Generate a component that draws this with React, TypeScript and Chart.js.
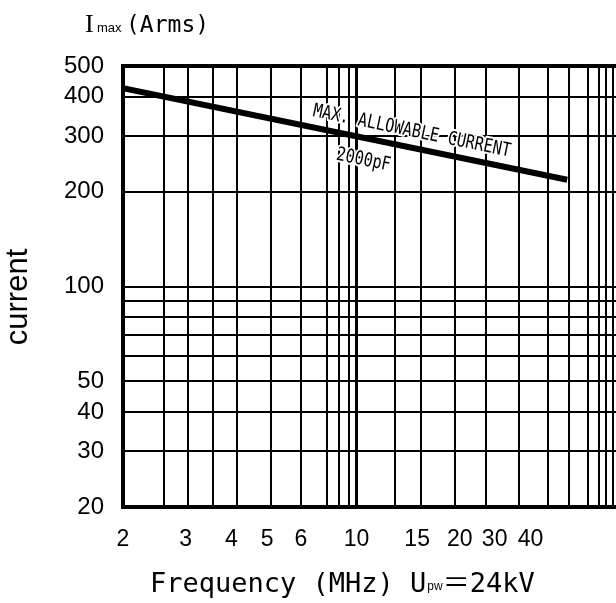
import { useEffect, useRef } from 'react';
import { Chart, Plugin, registerables } from 'chart.js';

Chart.register(...registerables);

// The sheet's frequency scale is hand drawn (not a true log axis), so x is the
// position along that printed scale, counted from the 2 MHz edge.
const xGridLines = [0, 41, 65, 91, 115, 149, 179, 205, 217, 227, 235, 274, 300, 334, 365, 398, 428, 449, 468, 479, 486, 493];
const xTickPositions = [0, 63, 109, 145, 179, 235, 296, 339, 374, 410];
const xTickLabels = ['2', '3', '4', '5', '6', '10', '15', '20', '30', '40'];

const yGridLines = [20, 30, 40, 50, 60, 70, 80, 90, 100, 200, 300, 400, 500];
const yTickLabels = [20, 30, 40, 50, 100, 200, 300, 400, 500];

// MAX. ALLOWABLE CURRENT, 2000pF
const curveX = [0, 447];
const curveY = [425, 218];

const MONO = "'DejaVu Sans Mono', monospace";
const SANS = "'Liberation Sans', sans-serif";

const sheetText: Plugin<'line'> = {
  id: 'sheetText',
  afterDatasetsDraw(chart) {
    const { ctx, scales } = chart;
    const x0 = scales.x.getPixelForValue(curveX[0]);
    const y0 = scales.y.getPixelForValue(curveY[0]);
    const x1 = scales.x.getPixelForValue(curveX[1]);
    const y1 = scales.y.getPixelForValue(curveY[1]);
    const angle = Math.atan2(y1 - y0, x1 - x0);
    const lineY = (px: number) => y0 + ((px - x0) * (y1 - y0)) / (x1 - x0);

    const onCurve = (text: string, px: number, offset: number) => {
      ctx.save();
      ctx.translate(px, lineY(px));
      ctx.rotate(angle);
      ctx.scale(0.8, 1);
      ctx.font = `19px ${MONO}`;
      ctx.textBaseline = 'alphabetic';
      ctx.lineJoin = 'round';
      ctx.strokeStyle = '#fff';
      ctx.lineWidth = 4;
      ctx.strokeText(text, 0, offset);
      ctx.fillStyle = '#000';
      ctx.fillText(text, 0, offset);
      ctx.restore();
    };
    onCurve('MAX. ALLOWABLE CURRENT', x0 + 187, -11);
    onCurve('2000pF', x0 + 218, 27);

    ctx.save();
    ctx.fillStyle = '#000';
    ctx.textBaseline = 'alphabetic';

    // y title at top
    ctx.font = "26px 'Liberation Serif', serif";
    ctx.fillText('I', 85, 32);
    ctx.font = `13px ${SANS}`;
    ctx.fillText('max', 97, 32);
    ctx.font = `23px ${MONO}`;
    ctx.fillText('(Arms)', 126, 32);

    // x title
    let x = 150;
    ctx.font = `27px ${MONO}`;
    const part1 = 'Frequency (MHz) U';
    ctx.fillText(part1, x, 592);
    x += ctx.measureText(part1).width + 1;
    ctx.font = `12px ${SANS}`;
    ctx.fillText('pw', x, 590);
    x += ctx.measureText('pw').width;
    ctx.font = "27px 'Noto Sans CJK JP', sans-serif";
    ctx.fillText('＝', x, 592);
    x += ctx.measureText('＝').width;
    ctx.font = `27px ${MONO}`;
    ctx.fillText('24kV', x, 592);

    // side label
    ctx.translate(27, 297);
    ctx.rotate(-Math.PI / 2);
    ctx.textAlign = 'center';
    ctx.font = `31px ${SANS}`;
    ctx.fillText('current', 0, 0);
    ctx.restore();
  },
};

const App = () => {
  const canvasRef = useRef<HTMLCanvasElement>(null);

  useEffect(() => {
    if (!canvasRef.current) return;
    const chart = new Chart(canvasRef.current, {
      type: 'line',
      data: {
        datasets: [{
          data: curveX.map((x, i) => ({ x, y: curveY[i] })),
          borderColor: '#000',
          borderWidth: 6,
          pointRadius: 0,
          tension: 0,
        }],
      },
      options: {
        responsive: false,
        animation: false,
        layout: { padding: { top: 66, left: 0, right: 4, bottom: 0 } },
        plugins: { legend: { display: false }, tooltip: { enabled: false } },
        scales: {
          x: {
            type: 'linear',
            min: 0,
            max: 505,
            afterFit: (scale) => { scale.height = 96; },
            afterBuildTicks: (scale) => {
              const all = Array.from(new Set([...xGridLines, ...xTickPositions])).sort((a, b) => a - b);
              scale.ticks = all.map((value) => ({ value }));
            },
            ticks: {
              autoSkip: false,
              maxRotation: 0,
              padding: 19,
              color: '#000',
              font: { family: SANS, size: 23 },
              callback: (value) => {
                const i = xTickPositions.indexOf(Number(value));
                return i >= 0 ? xTickLabels[i] : '';
              },
            },
            grid: {
              drawTicks: false,
              color: (c) => (xGridLines.includes(c.tick?.value) ? '#000' : 'rgba(0,0,0,0)'),
              lineWidth: (c) => (c.tick?.value === 235 ? 3 : 2),
            },
            border: { color: '#000', width: 4 },
          },
          y: {
            type: 'logarithmic',
            min: 20,
            max: 500,
            afterFit: (scale) => { scale.width = 123; },
            afterBuildTicks: (scale) => {
              scale.ticks = yGridLines.map((value) => ({ value }));
            },
            ticks: {
              autoSkip: false,
              padding: 19,
              color: '#000',
              font: { family: SANS, size: 24 },
              callback: (value) => (yTickLabels.includes(Number(value)) ? String(value) : ''),
            },
            grid: {
              drawTicks: false,
              color: '#000',
              lineWidth: (c) => (c.tick?.value === 500 ? 4 : 2),
            },
            border: { color: '#000', width: 4 },
          },
        },
      },
      plugins: [sheetText],
    });
    return () => chart.destroy();
  }, []);

  return (
    <div style={{ position: 'fixed', left: 0, top: 0, width: 616, height: 603, overflow: 'hidden', background: '#fff' }}>
      <canvas ref={canvasRef} width={632} height={603} style={{ display: 'block' }} />
    </div>
  );
};

export default App;
